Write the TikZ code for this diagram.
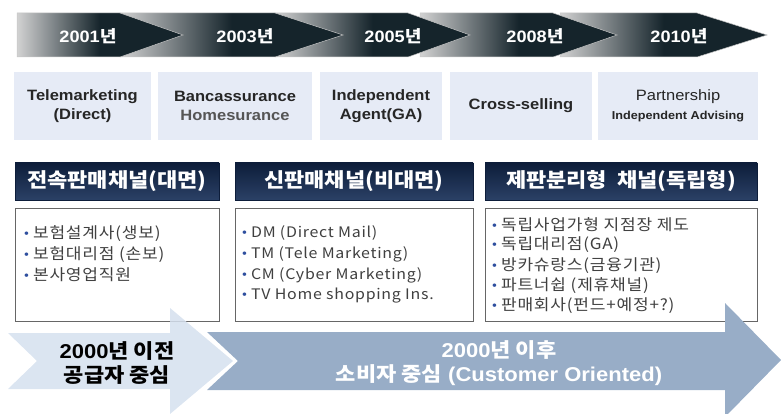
\documentclass[tikz,border=0pt]{standalone}
\usepackage{fontspec}
\setmainfont{Liberation Sans}[FakeStretch=1.1]
\newfontfamily\krfont{Noto Sans CJK KR}[FakeStretch=1.1]
\newfontfamily\listfont{Noto Sans CJK KR}[FakeStretch=1.1,LetterSpace=5]
\newcommand{\kr}[1]{{\krfont#1}}
\definecolor{chevlight}{HTML}{D2D2D2}
\definecolor{chevdark}{HTML}{15242B}
\definecolor{boxblue}{HTML}{E6EBF6}
\definecolor{homegray}{HTML}{555555}
\definecolor{hdtop}{HTML}{0D1D3A}
\definecolor{hdbot}{HTML}{2B4166}
\definecolor{bulblue}{HTML}{2F4F9F}
\definecolor{arrowlight}{HTML}{D5E0EE}
\definecolor{arrowdark}{HTML}{98ADC7}
\newcommand{\bul}{\raisebox{1pt}{\textcolor{bulblue}{\fontsize{13}{13}\selectfont\textbullet}}\hspace{4pt}}
\begin{document}
\begin{tikzpicture}
[x=1pt,y=-1pt,
  chevron/.style={left color=chevlight,right color=chevdark,middle color=chevdark,draw=gray!45,line width=.5pt},%
  yearlabel/.style={text=white,font=\fontsize{16.5}{18}\selectfont\bfseries},%
  channelbox/.style={fill=boxblue,inner sep=0pt,minimum height=68pt,align=center,text=black!85,font=\fontsize{15}{19}\selectfont\bfseries},%
  headbox/.style={top color=hdtop,bottom color=hdbot,draw=hdtop,inner sep=0pt,minimum height=37pt,text=white,font=\krfont\fontsize{20}{22}\selectfont\bfseries},%
  listbox/.style={draw=black!60,fill=white,line width=.7pt,inner sep=0pt,minimum height=113pt},%
  listitem/.style={anchor=west,inner sep=0pt,text=black!75,font=\listfont\fontsize{15.5}{17}\selectfont},%
  arrowtext/.style={align=center,font=\fontsize{20}{24}\selectfont\bfseries}]
\useasboundingbox (0,0) rectangle (781,414);
%% timeline chevrons, back to front
\foreach \name/\l/\s/\t/\lx/\yr in {5/560/697/767/679/2010, 4/420/553/617/535/2008,
    3/275/408/470/393/2005, 2/120/275/343/245/2003, 1/17/120/183/88/2001} {
  \path[chevron] (\l,13) -- (\s,13) -- (\t,35) -- (\s,57) -- (\l,57) -- cycle;
  \node[yearlabel] (year\name) at (\lx,36) {\yr\kr{년}};
}
%% channel boxes
\foreach \name/\x/\w/\txt in {1/82.5/137/{Telemarketing\\(Direct)},
    2/235/154/{Bancassurance\\\textcolor{homegray}{Homesurance}},
    3/381/122/{Independent\\Agent(GA)},
    4/521/142/{Cross-selling},
    5/678/160/{{\mdseries Partnership}\\{\fontsize{11.5}{14}\selectfont Independent Advising}}} {
  \node[channelbox,minimum width=\w pt] (chan\name) at (\x,106) {\txt};
}
%% headers and lists
\foreach \name/\x/\w/\txt in {A/117/204/전속판매채널(대면), B/354/238/신판매채널(비대면),
    C/621/272/{제판분리형\hspace{.5em}채널(독립형)}} {
  \node[headbox,minimum width=\w pt] (head\name) at (\x,181.5) {\txt};
  \node[listbox,minimum width=\w pt] (list\name) at (\x,264.5) {};
}
\foreach \name/\y/\txt in {1/234/보험설계사(생보), 2/255/보험대리점 (손보), 3/275/본사영업직원} {
  \node[listitem] (itemA\name) at (24,\y) {\bul\txt};
}
\foreach \name/\y/\txt in {1/233/DM (Direct Mail), 2/254/TM (Tele Marketing),
    3/275/CM (Cyber Marketing), 4/296/TV Home shopping Ins.} {
  \node[listitem,font=\listfont\fontsize{14.5}{17}\selectfont] (itemB\name) at (242,\y) {\bul\txt};
}
\foreach \name/\y/\txt in {1/225/독립사업가형 지점장 제도, 2/245/독립대리점(GA), 3/266/방카슈랑스(금융기관),
    4/286/파트너쉽 (제휴채널), 5/306/판매회사(펀드+예정+?)} {
  \node[listitem] (itemC\name) at (492,\y) {\bul\txt};
}
%% before / after arrows
\path[fill=arrowdark] (207,332) -- (725,332) -- (725,303) -- (781,360) -- (725,417)
  -- (725,390) -- (207,390) -- (238,361) -- cycle;
\path[fill=arrowlight,fill opacity=.85] (8,333) -- (170,333) -- (170,308) -- (233,361)
  -- (170,414) -- (170,389) -- (8,389) -- (37,361) -- cycle;
\node[arrowtext,text=black] (before) at (117,363) {2000\kr{년 이전}\\\kr{공급자 중심}};
\node[arrowtext,text=white] (after) at (499,363) {2000\kr{년 이후}\\\kr{소비자 중심} (Customer Oriented)};
\end{tikzpicture}
\end{document}
